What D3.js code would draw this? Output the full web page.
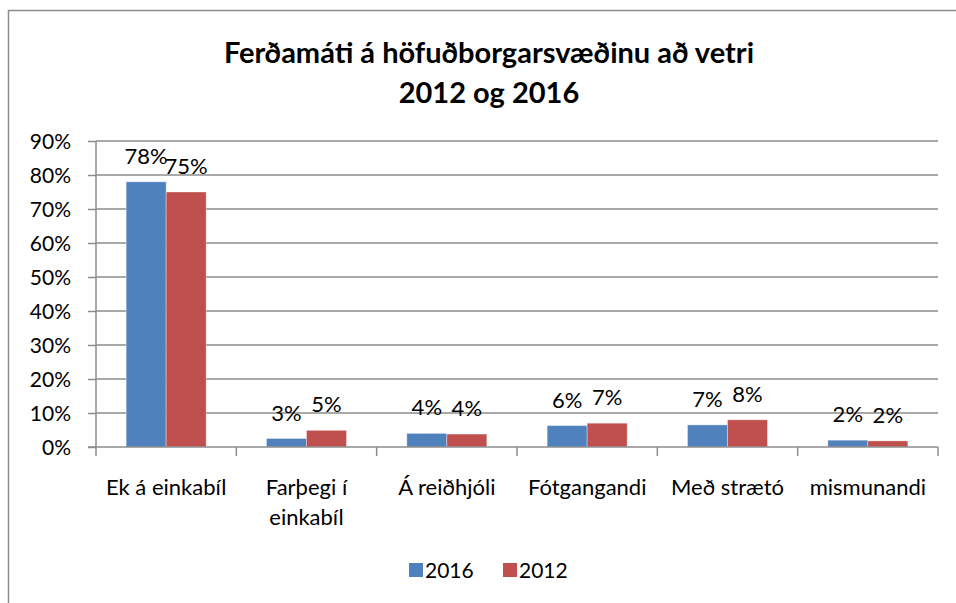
<!DOCTYPE html>
<html>
<head>
<meta charset="utf-8">
<script src="https://cdn.jsdelivr.net/npm/d3@7"></script>
<style>
body { margin: 0; background: #fff; }
text { font-family: Lato, "Open Sans", sans-serif; fill: #000; }
</style>
</head>
<body>
<svg id="vis" width="956" height="603"></svg>
<script>
var categories = ["Ek á einkabíl", "Farþegi í|einkabíl", "Á reiðhjóli", "Fótgangandi", "Með strætó", "mismunandi"];
var series = ["2016", "2012"];
var values2016 = [0.78, 0.025, 0.040, 0.063, 0.065, 0.020];
var values2012 = [0.75, 0.049, 0.038, 0.070, 0.080, 0.018];
var yTicks = [0, 0.1, 0.2, 0.3, 0.4, 0.5, 0.6, 0.7, 0.8, 0.9];
var colors = ["#4F81BD", "#C0504D"];

var margin = { left: 96, right: 18, top: 141, bottom: 156 };
var width = 956 - margin.left - margin.right;
var height = 603 - margin.top - margin.bottom;

var svg = d3.select("#vis");

// 外框
svg.append("path")
    .attr("d", "M8.5,603 L8.5,10.5 L956,10.5")
    .attr("fill", "none")
    .attr("stroke", "#8c8c8c")
    .attr("stroke-width", 1.5);

// 标题
var title = svg.append("text")
    .attr("text-anchor", "middle")
    .style("font-weight", "bold")
    .style("font-size", "29px");
title.append("tspan").attr("x", 489).attr("y", 63).text("Ferðamáti á höfuðborgarsvæðinu að vetri");
title.append("tspan").attr("x", 489).attr("y", 103).text("2012 og 2016");

var g = svg.append("g")
    .attr("transform", "translate(" + margin.left + "," + margin.top + ")");

var x0 = d3.scaleBand().domain(categories).range([0, width]).paddingInner(0).paddingOuter(0);
var x1 = d3.scaleBand().domain(series).range([x0.bandwidth() * 0.215, x0.bandwidth() * 0.785]);
var y = d3.scaleLinear().domain([0, 0.9]).range([height, 0]);

// 网格线
g.append("g")
    .selectAll("line")
    .data(yTicks.slice(1))
    .enter()
    .append("line")
    .attr("x1", 0)
    .attr("x2", width)
    .attr("y1", d => y(d))
    .attr("y2", d => y(d))
    .attr("stroke", "#8c8c8c")
    .attr("stroke-width", 1.5);

// 柱子
var data = categories.map(function (c, i) {
    return { cat: c, vals: [values2016[i], values2012[i]] };
});
var groups = g.selectAll(".cat")
    .data(data)
    .enter()
    .append("g")
    .attr("transform", d => "translate(" + x0(d.cat) + ",0)");

groups.selectAll("rect")
    .data(d => d.vals.map((v, j) => ({ key: series[j], value: v })))
    .enter()
    .append("rect")
    .attr("x", d => x1(d.key))
    .attr("y", d => y(d.value))
    .attr("width", x1.bandwidth())
    .attr("height", d => height - y(d.value))
    .attr("fill", (d, j) => colors[j])
    .attr("stroke", "rgba(255,255,255,0.35)")
    .attr("stroke-width", 1);

groups.selectAll(".lbl")
    .data(d => d.vals.map((v, j) => ({ key: series[j], value: v })))
    .enter()
    .append("text")
    .attr("class", "lbl")
    .attr("text-anchor", "middle")
    .attr("x", d => x1(d.key) + x1.bandwidth() / 2)
    .attr("y", d => y(d.value) - 18)
    .style("font-size", "22px")
    .text(d => Math.round(d.value * 100) + "%");

// y轴
var yAxis = d3.axisLeft(y)
    .tickValues(yTicks)
    .tickSize(8)
    .tickPadding(17)
    .tickFormat(d3.format(".0%"));
var yg = g.append("g").call(yAxis);
yg.select(".domain").attr("stroke", "#8c8c8c").attr("stroke-width", 1.5).attr("d", "M0," + height + "V0");
yg.selectAll(".tick line").attr("stroke", "#8c8c8c").attr("stroke-width", 1.5);
yg.selectAll(".tick text").style("font-size", "21px").style("font-family", "Lato, sans-serif").attr("fill", "#000").attr("dy", "0.36em");

// x轴
var xg = g.append("g").attr("transform", "translate(0," + height + ")");
xg.append("line")
    .attr("x1", -8).attr("x2", width)
    .attr("stroke", "#8c8c8c").attr("stroke-width", 1.5);
xg.selectAll(".xt")
    .data(d3.range(categories.length + 1))
    .enter()
    .append("line")
    .attr("x1", i => i * x0.bandwidth())
    .attr("x2", i => i * x0.bandwidth())
    .attr("y1", 0).attr("y2", 9)
    .attr("stroke", "#8c8c8c").attr("stroke-width", 1.5);
var xl = xg.selectAll(".xl")
    .data(categories)
    .enter()
    .append("text")
    .attr("text-anchor", "middle")
    .style("font-size", "22px")
    .attr("transform", d => "translate(" + (x0(d) + x0.bandwidth() / 2) + ",48)");
xl.selectAll("tspan")
    .data(d => d.split("|"))
    .enter()
    .append("tspan")
    .attr("x", 0)
    .attr("y", (d, i) => i * 30)
    .text(d => d);

// 图例
var legend = svg.append("g").attr("transform", "translate(409,563)");
series.forEach(function (s, i) {
    var lg = legend.append("g").attr("transform", "translate(" + (i * 94) + ",0)");
    lg.append("rect").attr("width", 14).attr("height", 14).attr("fill", colors[i]);
    lg.append("text").attr("x", 16).attr("y", 15).style("font-size", "21px").text(s);
});
</script>
</body>
</html>
